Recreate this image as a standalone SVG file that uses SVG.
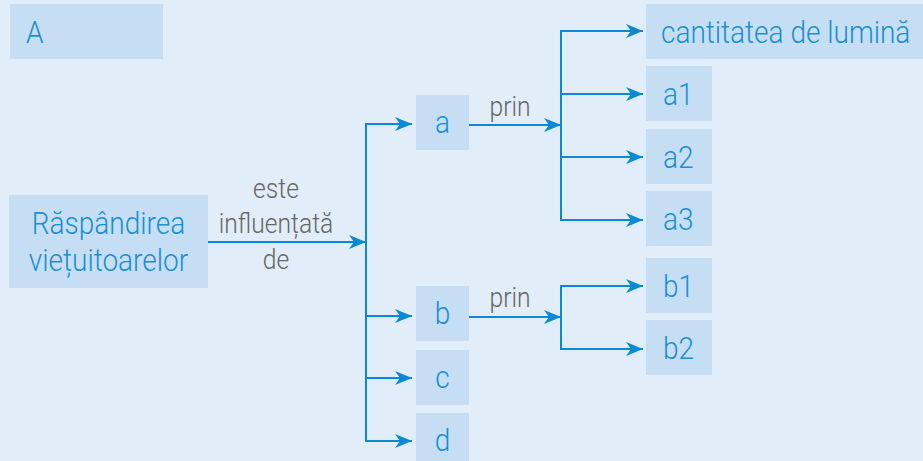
<svg xmlns="http://www.w3.org/2000/svg" width="923" height="461" viewBox="0 0 923 461">
<defs>
<style>
.bg{fill:#E1EDF8}
.box{fill:#C6DEF3}
.t{font-family:Roboto,"Liberation Sans",sans-serif;font-weight:300;font-size:32px;fill:#1A8FD6;transform-box:fill-box;transform-origin:left center;transform:scaleX(0.875)}
.g{font-family:Roboto,"Liberation Sans",sans-serif;font-weight:300;font-size:28px;fill:#666666;text-anchor:middle;transform-box:fill-box;transform-origin:center;transform:scaleX(0.88)}
.c{text-anchor:middle;transform-origin:center}
.ln{fill:none;stroke:#0A8AD6;stroke-width:2}
.ar{fill:none;stroke:#0A8AD6;stroke-width:2;marker-end:url(#ah)}
</style>
<marker id="ah" markerUnits="userSpaceOnUse" markerWidth="18" markerHeight="14" viewBox="0 0 18 14" refX="17" refY="7" orient="auto">
<path d="M0,0 L17,7 L0,14 L5,7 Z" fill="#0A8AD6"/>
</marker>
</defs>
<rect class="bg" x="0" y="0" width="923" height="461"/>

<g id="label-A"><rect class="box" x="10" y="4" width="153" height="55"/><text class="t" x="26" y="43">A</text></g>

<g id="root"><rect class="box" x="9" y="195" width="199" height="93"/>
<text class="t c" x="108.5" y="234">Răspândirea</text>
<text class="t c" x="108.5" y="271">viețuitoarelor</text></g>

<g id="node-a"><rect class="box" x="416" y="95" width="53" height="55"/><text class="t c" x="442.5" y="133">a</text></g>
<g id="node-b"><rect class="box" x="416" y="286" width="53" height="55"/><text class="t c" x="442.5" y="324">b</text></g>
<g id="node-c"><rect class="box" x="416" y="350" width="53" height="55"/><text class="t c" x="442.5" y="388">c</text></g>
<g id="node-d"><rect class="box" x="416" y="413" width="53" height="55"/><text class="t c" x="442.5" y="451">d</text></g>

<g id="node-lumina"><rect class="box" x="646" y="4" width="277" height="55"/><text class="t" x="661" y="43">cantitatea de lumină</text></g>
<g id="node-a1"><rect class="box" x="646" y="66" width="66" height="55"/><text class="t" x="663" y="105">a1</text></g>
<g id="node-a2"><rect class="box" x="646" y="129" width="66" height="55"/><text class="t" x="663" y="168">a2</text></g>
<g id="node-a3"><rect class="box" x="646" y="191" width="66" height="55"/><text class="t" x="663" y="230">a3</text></g>
<g id="node-b1"><rect class="box" x="646" y="258" width="66" height="55"/><text class="t" x="663" y="297">b1</text></g>
<g id="node-b2"><rect class="box" x="646" y="320" width="66" height="55"/><text class="t" x="663" y="359">b2</text></g>

<g id="connectors">
<line class="ar" x1="208" y1="242" x2="366" y2="242"/>
<line class="ln" x1="366" y1="123" x2="366" y2="442"/>
<line class="ar" x1="365" y1="124" x2="412" y2="124"/>
<line class="ar" x1="365" y1="316" x2="412" y2="316"/>
<line class="ar" x1="365" y1="378" x2="412" y2="378"/>
<line class="ar" x1="365" y1="441" x2="412" y2="441"/>

<line class="ar" x1="469" y1="125" x2="561" y2="125"/>
<line class="ln" x1="561" y1="30" x2="561" y2="221"/>
<line class="ar" x1="560" y1="31" x2="643" y2="31"/>
<line class="ar" x1="560" y1="94" x2="643" y2="94"/>
<line class="ar" x1="560" y1="157" x2="643" y2="157"/>
<line class="ar" x1="560" y1="220" x2="643" y2="220"/>

<line class="ar" x1="469" y1="317" x2="561" y2="317"/>
<line class="ln" x1="561" y1="285" x2="561" y2="350"/>
<line class="ar" x1="560" y1="286" x2="643" y2="286"/>
<line class="ar" x1="560" y1="349" x2="643" y2="349"/>

<text class="g" x="276" y="198">este</text>
<text class="g" x="276" y="233">influențată</text>
<text class="g" x="276" y="269">de</text>
<text class="g" x="510" y="116">prin</text>
<text class="g" x="510" y="307">prin</text>
</g>
</svg>
